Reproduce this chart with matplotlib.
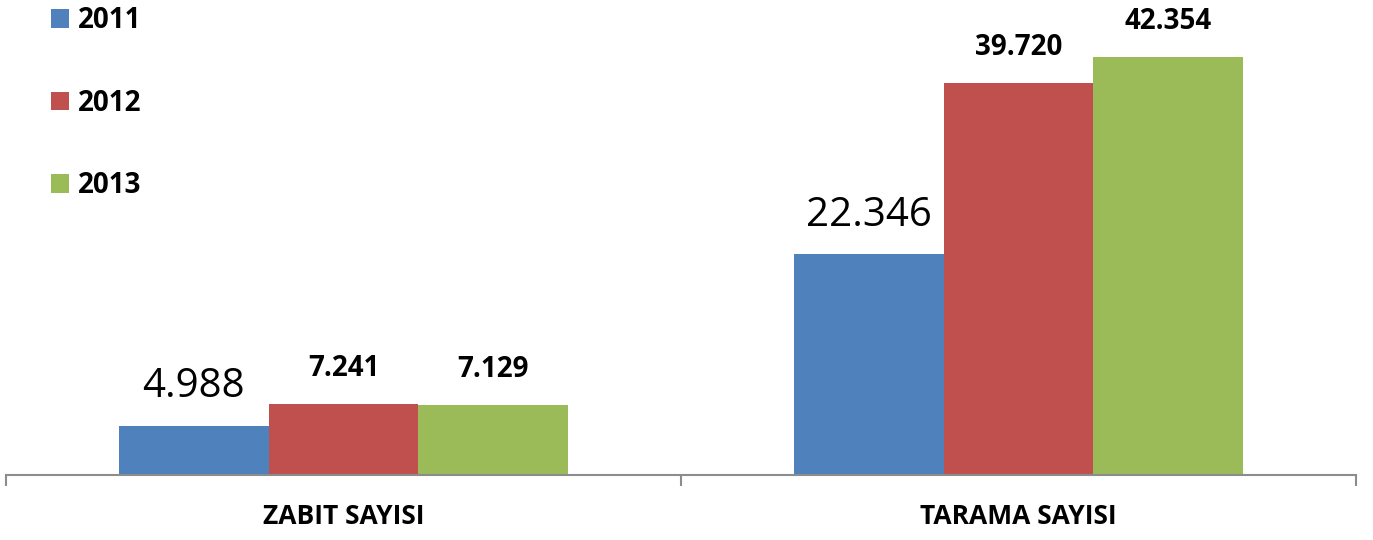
import numpy as np
import matplotlib.pyplot as plt

categories = ['ZABIT SAYISI', 'TARAMA SAYISI']
years = ['2011', '2012', '2013']
values_2011 = [4988, 22346]
values_2012 = [7241, 39720]
values_2013 = [7129, 42354]
labels_2011 = ['4.988', '22.346']
labels_2012 = ['7.241', '39.720']
labels_2013 = ['7.129', '42.354']

colors = ['#4F81BD', '#C0504D', '#9BBB59']
font = 'Open Sans'

fig = plt.figure(figsize=(13.73, 5.40), dpi=100)
ax = fig.add_axes([6 / 1373, 65 / 540, 1350 / 1373, 475 / 540])

x = np.arange(len(categories))
w = 0.2222
series = [values_2011, values_2012, values_2013]
texts = [labels_2011, labels_2012, labels_2013]

for i, (vals, labs) in enumerate(zip(series, texts)):
    bars = ax.bar(x + (i - 1) * w, vals, width=w, color=colors[i], label=years[i])
    for b, lab in zip(bars, labs):
        if i == 0:
            # 2011 etiketleri büyük ve normal yazı
            ax.annotate(lab, (b.get_x() + b.get_width() / 2, b.get_height()),
                        xytext=(0, 20.5), textcoords='offset points',
                        ha='center', va='baseline', fontsize=29, family=font)
        else:
            ax.annotate(lab, (b.get_x() + b.get_width() / 2, b.get_height()),
                        xytext=(0, 20), textcoords='offset points',
                        ha='center', va='baseline', fontsize=20, fontweight='bold', family=font)

ax.set_xlim(-0.5, 1.5)
ax.set_ylim(0, 42354 * 475 / 418)

for s in ['top', 'right', 'left']:
    ax.spines[s].set_visible(False)
ax.spines['bottom'].set_color('#8C8C8C')
ax.spines['bottom'].set_linewidth(1.5)
ax.set_yticks([])
ax.set_xticks([-0.5, 0.5, 1.5])
ax.set_xticklabels([])
ax.tick_params(axis='x', length=8, width=1.5, color='#8C8C8C')
for xi, c in zip(x, categories):
    ax.annotate(c, (xi, 0), xytext=(0, -35.5), textcoords='offset points',
                ha='center', va='baseline', fontsize=19, fontweight='bold', family=font)

leg = fig.legend(loc='upper left', bbox_to_anchor=(51 / 1373, 1 - 6 / 540), frameon=False,
                 borderpad=0, borderaxespad=0,
                 prop={'family': font, 'weight': 'bold', 'size': 20},
                 handlelength=0.65, handleheight=0.65, handletextpad=0.32, labelspacing=1.93)

fig.savefig('out.png', dpi=100)
